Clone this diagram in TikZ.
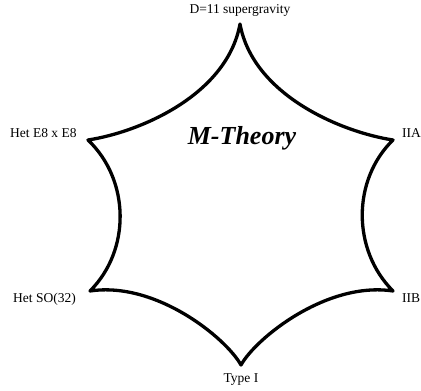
\documentclass[tikz,border=0pt]{standalone}
\usepackage{fontspec}
\setmainfont{Liberation Serif}
\begin{document}
\begin{tikzpicture}[x=1pt,y=-1pt,
  lbl/.style={font=\fontsize{13.5}{15}\selectfont, inner sep=0pt},
  star/.style={line width=3.3pt, line join=round}]
\useasboundingbox (0,0) rectangle (421,391);
\coordinate (T) at (240,24);
\coordinate (UL) at (88,140);
\coordinate (UR) at (393,140);
\coordinate (LL) at (90,291);
\coordinate (LR) at (393,291);
\coordinate (B) at (241,365);
\draw[star] (T) .. controls (227,95) and (140,132) .. (UL)
  .. controls (130,180) and (131,250) .. (LL)
  .. controls (156,281) and (226,338) .. (B)
  .. controls (256,338) and (327,281) .. (LR)
  .. controls (352,250) and (352,180) .. (UR)
  .. controls (341,132) and (253,95) .. cycle;
\node[lbl] (d11) at (240,10) {D=11 supergravity};
\node[lbl, anchor=west] (e8) at (10,133) {Het E8 x E8};
\node[lbl, anchor=west] (iia) at (402,133) {IIA};
\node[lbl, anchor=west] (so32) at (13,299) {Het SO(32)};
\node[lbl, anchor=west] (iib) at (402,298) {IIB};
\node[lbl] (t1) at (241,380) {Type I};
\node[font=\fontsize{26}{30}\selectfont\bfseries\itshape, inner sep=0pt] (m) at (242,138) {M-Theory};
\end{tikzpicture}
\end{document}
